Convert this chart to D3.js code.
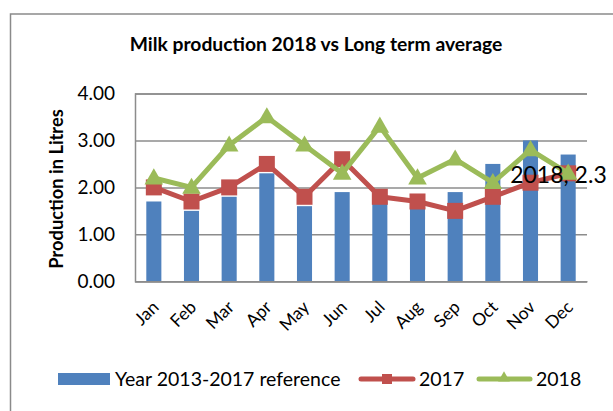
<!DOCTYPE html>
<html><head><meta charset="utf-8">
<script src="https://cdn.jsdelivr.net/npm/d3@7/dist/d3.min.js"></script>
<style>body{margin:0;background:#fff}svg{display:block}text{font-family:Lato,"Open Sans",sans-serif;fill:#000}</style>
</head><body><svg id="c" width="613" height="411"></svg>
<script>
const months = ["Jan","Feb","Mar","Apr","May","Jun","Jul","Aug","Sep","Oct","Nov","Dec"];
const reference = [1.7,1.5,1.8,2.3,1.6,1.9,1.7,1.6,1.9,2.5,3.0,2.7];
const y2017 = [2.0,1.7,2.0,2.5,1.8,2.6,1.8,1.7,1.5,1.8,2.1,2.3];
const y2018 = [2.2,2.0,2.9,3.5,2.9,2.3,3.3,2.2,2.6,2.1,2.8,2.3];
const yTicks = [0,1,2,3,4];
const seriesNames = ["Year 2013-2017 reference","2017","2018"];
const title = "Milk production 2018 vs Long term average";
const yTitle = "Production in Litres";

const svg = d3.select("#c");
const C = {blue:"#4F81BD", red:"#C0504D", green:"#9BBB59", grid:"#8c8c8c"};
const m = {l:135, r:587, t:93.5, b:281.3};

// outer border
svg.append("rect").attr("x",10.5).attr("y",14).attr("width",640).attr("height",420)
  .attr("fill","none").attr("stroke","#8a8a8a").attr("stroke-width",1.5);

svg.append("text").attr("x",316).attr("y",51).attr("text-anchor","middle")
  .attr("font-weight","bold").attr("font-size",19.3).text(title);

const x = d3.scaleBand().domain(months).range([m.l,m.r]).paddingInner(0.6).paddingOuter(0.3);
const xc = d => x(d) + x.bandwidth()/2;
const y = d3.scaleLinear().domain([0,4]).range([m.b,m.t]);

// gridlines
const yAxis = d3.axisLeft(y).tickValues(yTicks).tickFormat(d3.format(".2f")).tickSize(-(m.r-m.l)).tickPadding(20);
const gy = svg.append("g").attr("transform",`translate(${m.l},0)`).call(yAxis);
gy.select(".domain").attr("stroke",C.grid).attr("stroke-width",1.5);
gy.selectAll(".tick line").attr("stroke",C.grid).attr("stroke-width",1.5);
gy.selectAll(".tick text").attr("font-size",19).attr("fill","#000").style("font-family","Lato");

svg.append("text").attr("transform",`translate(63,189) rotate(-90)`).attr("text-anchor","middle")
  .attr("font-weight","bold").attr("font-size",18.3).text(yTitle);

// bars
svg.append("g").selectAll("rect").data(reference).join("rect")
  .attr("x",(d,i)=>x(months[i])).attr("width",x.bandwidth())
  .attr("y",d=>y(d)).attr("height",d=>m.b-y(d)).attr("fill",C.blue);

// x labels
const xAxis = d3.axisBottom(x).tickSize(0).tickPadding(0);
const gx = svg.append("g").attr("transform",`translate(0,${m.b})`).call(xAxis);
gx.select(".domain").attr("stroke",C.grid).attr("stroke-width",1.5);
gx.selectAll(".tick text").attr("font-size",17.5).attr("fill","#000").style("font-family","Lato")
  .attr("text-anchor","end").attr("dy",0).attr("y",0)
  .attr("transform","translate(6,27) rotate(-45)");

const line = d3.line().x((d,i)=>xc(months[i])).y(d=>y(d));
// 2017
svg.append("path").datum(y2017).attr("d",line).attr("fill","none").attr("stroke",C.red)
  .attr("stroke-width",5).attr("stroke-linejoin","round");
svg.append("g").selectAll("rect").data(y2017).join("rect")
  .attr("x",(d,i)=>xc(months[i])-8).attr("y",d=>y(d)-8).attr("width",16).attr("height",16).attr("fill",C.red);
// 2018
svg.append("path").datum(y2018).attr("d",line).attr("fill","none").attr("stroke",C.green)
  .attr("stroke-width",5).attr("stroke-linejoin","round");
const tri = d3.symbol().type(d3.symbolTriangle).size(150);
svg.append("g").selectAll("path").data(y2018).join("path")
  .attr("d",tri).attr("transform",(d,i)=>`translate(${xc(months[i])},${y(d)+1})`).attr("fill",C.green);

// data label
const li = 11;
svg.append("text").attr("x",xc(months[li])-58).attr("y",y(y2018[li])+10)
  .attr("font-size",23).text(`${seriesNames[2]}, ${y2018[li]}`);

// legend
const lg = svg.append("g");
lg.append("rect").attr("x",58).attr("y",373).attr("width",52).attr("height",12).attr("fill",C.blue);
lg.append("text").attr("x",115).attr("y",386).attr("font-size",19.5).text(seriesNames[0]);
lg.append("line").attr("x1",361).attr("x2",413).attr("y1",379).attr("y2",379).attr("stroke",C.red).attr("stroke-width",5).attr("stroke-linecap","round");
lg.append("rect").attr("x",382).attr("y",374).attr("width",10).attr("height",10).attr("fill",C.red);
lg.append("text").attr("x",419).attr("y",386).attr("font-size",19.5).text(seriesNames[1]);
lg.append("line").attr("x1",479).attr("x2",530).attr("y1",379).attr("y2",379).attr("stroke",C.green).attr("stroke-width",5).attr("stroke-linecap","round");
lg.append("path").attr("d",d3.symbol().type(d3.symbolTriangle).size(60)).attr("transform","translate(504,378)").attr("fill",C.green);
lg.append("text").attr("x",536).attr("y",386).attr("font-size",19.5).text(seriesNames[2]);
</script></body></html>
